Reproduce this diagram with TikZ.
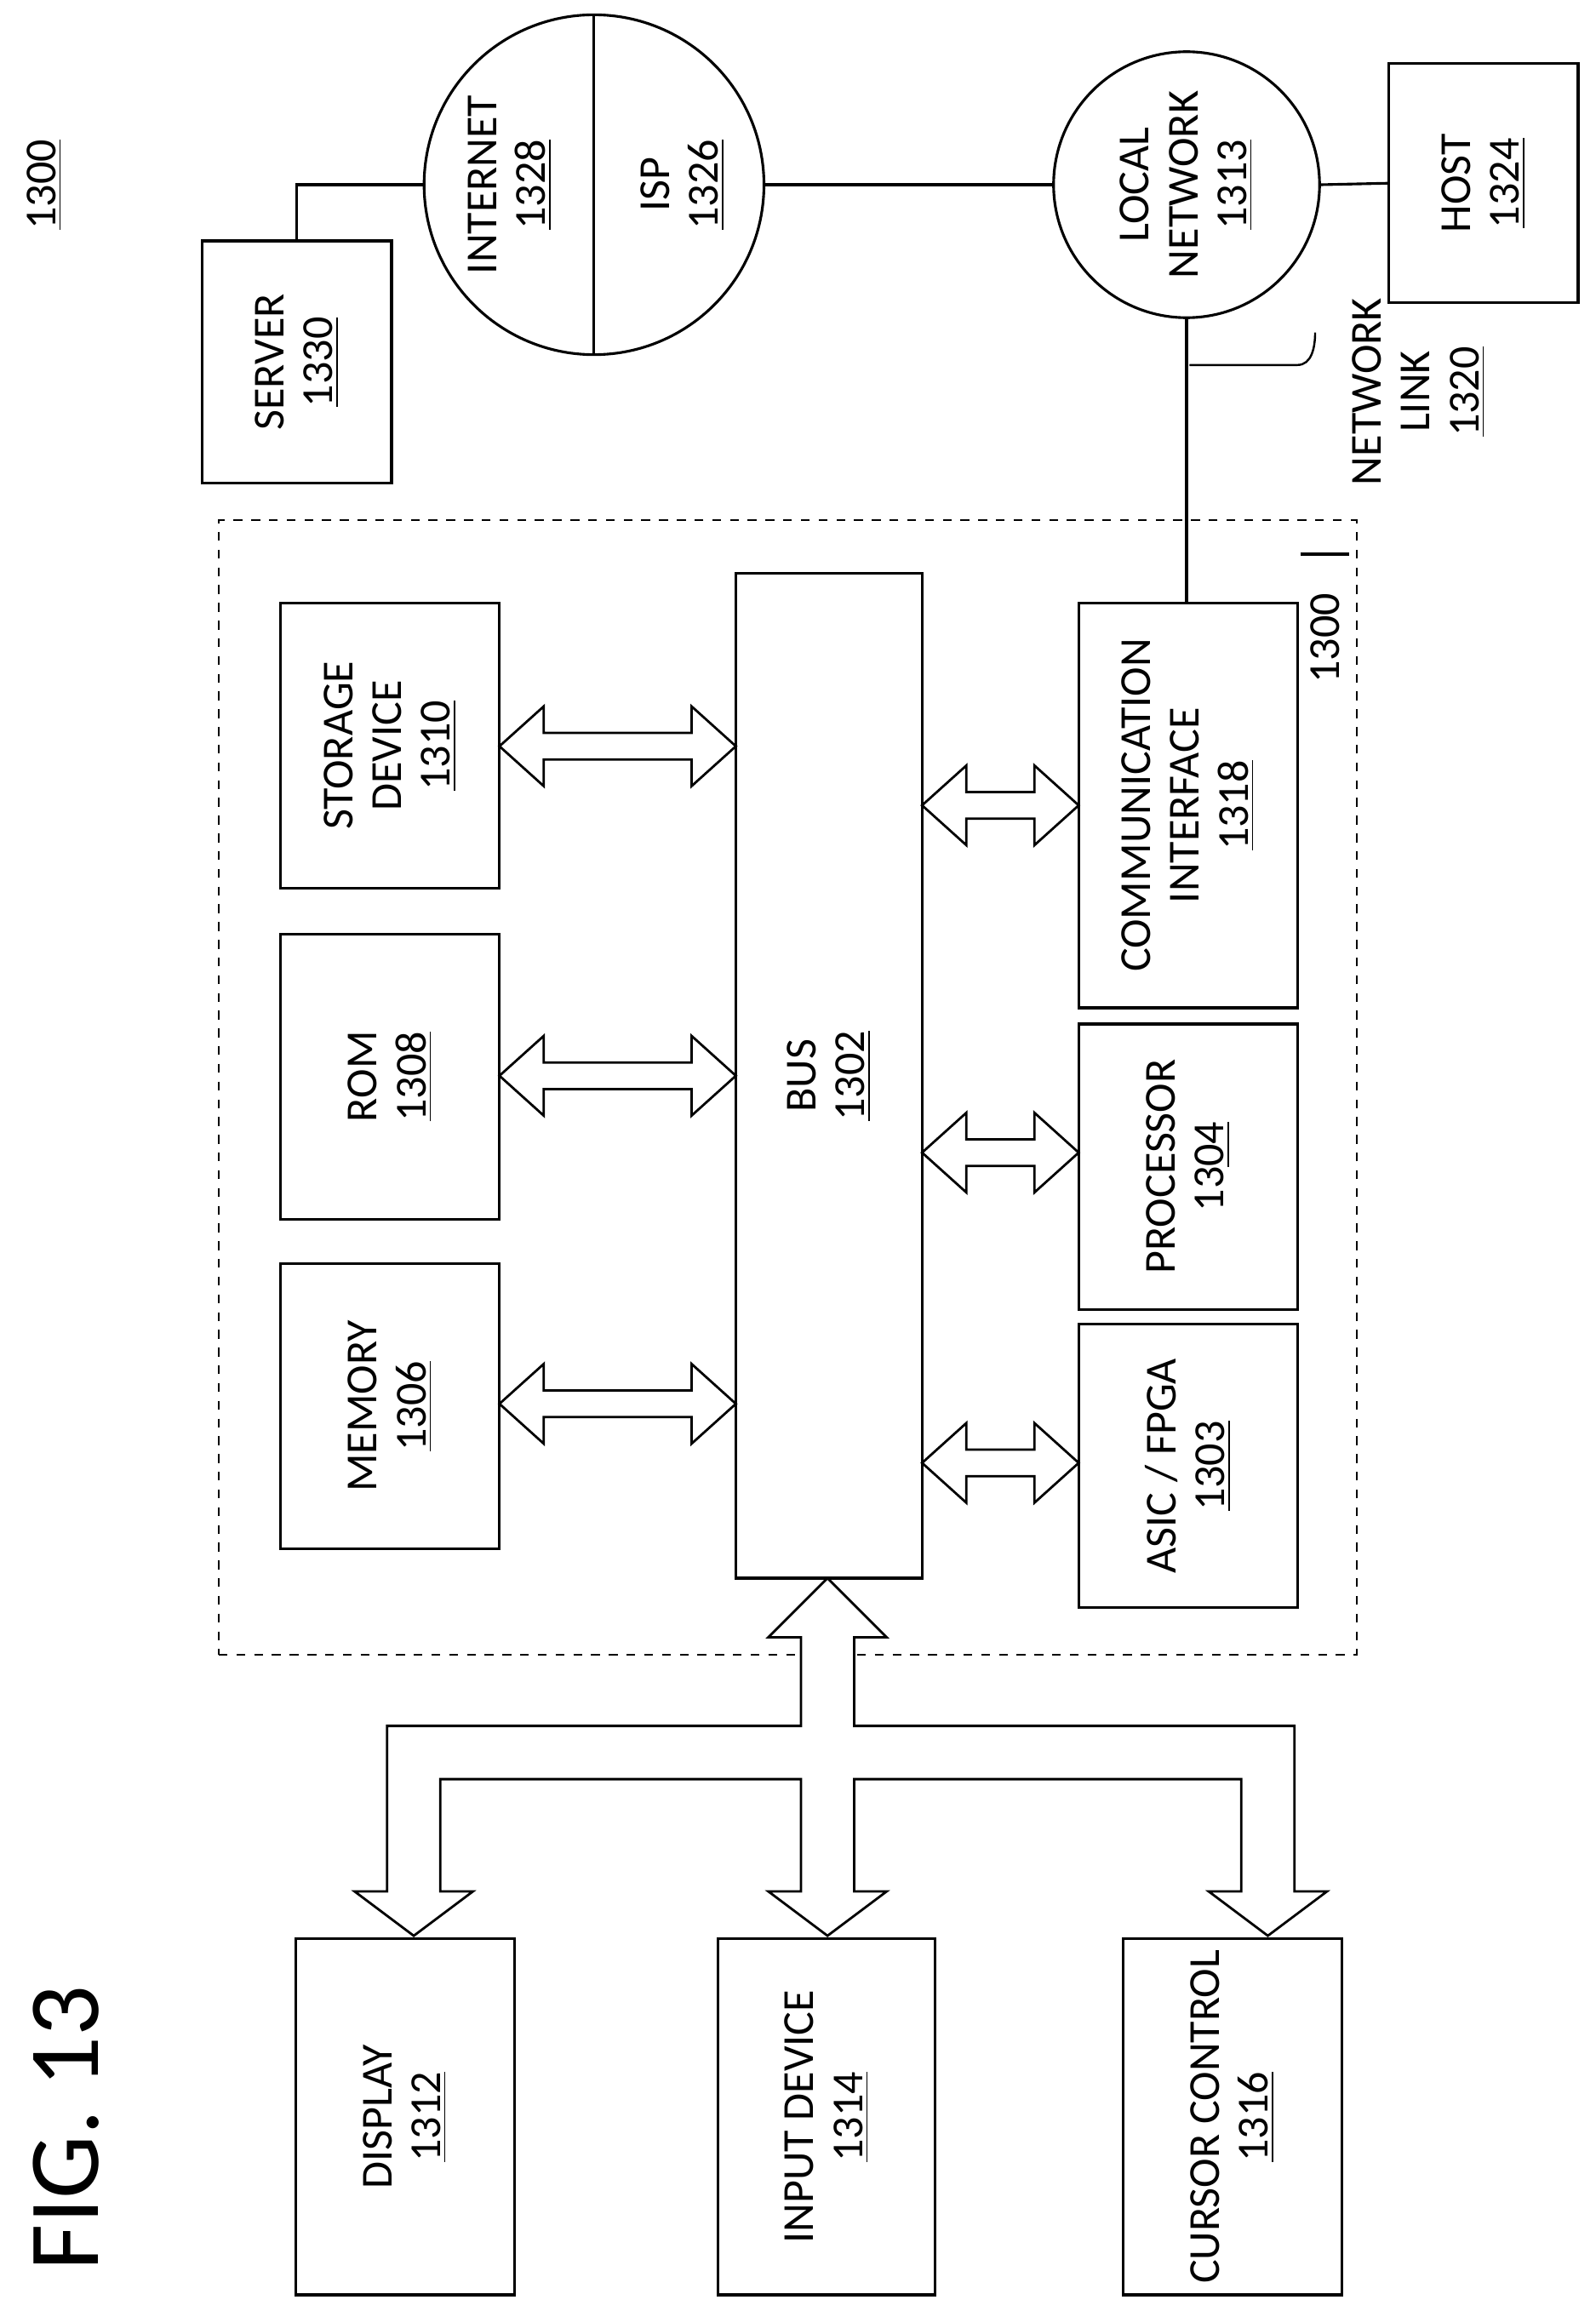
\documentclass[tikz,border=0pt]{standalone}
\usepackage{fontspec}
\setmainfont{Carlito}
\begin{document}
\begin{tikzpicture}[x=0.5pt,y=-0.5pt,
  lbl/.style={rotate=90,align=center,font=\fontsize{15}{16.5}\selectfont},
  ln/.style={line width=0.9pt},
  hol/.style={draw,line width=0.8pt,fill=white}]
\useasboundingbox (0,0) rectangle (1080,1568);
\newcommand{\bx}[6]{%
  \node[draw,ln,inner sep=0,minimum width={(#4-#2)*0.5pt},minimum height={(#5-#3)*0.5pt}] (#1) at ({(#2+#4)/2},{(#3+#5)/2}) {};
  \node[lbl] at (#1) {#6};}
\newcommand{\dbl}[3]{%
  \draw[hol] (#1,#3) -- (#1+30,#3-27) -- (#1+30,#3-9) -- (#2-30,#3-9) -- (#2-30,#3-27) -- (#2,#3) -- (#2-30,#3+27) -- (#2-30,#3+9) -- (#1+30,#3+9) -- (#1+30,#3+27) -- cycle;}
% titles
\node[lbl] (t1300) at (30,125) {\underline{1300}};
\node[rotate=90,font=\fontsize{34}{36}\selectfont] (fig) at (45,1440) {FIG. 13};
% network
\bx{srv}{137}{163}{265}{327}{SERVER\\\underline{1330}}
\node[draw,ln,circle,minimum size=115pt,inner sep=0] (inet) at (402,125) {};
\draw[ln] (inet.north) -- (inet.south);
\node[lbl] at (345,125) {INTERNET\\\underline{1328}};
\node[lbl] at (462,125) {ISP\\\underline{1326}};
\node[draw,ln,circle,minimum size=90pt,inner sep=0] (lan) at (803,125) {};
\node[lbl] at (803,125) {LOCAL\\NETWORK\\\underline{1313}};
\bx{host}{940}{43}{1068}{205}{HOST\\\underline{1324}}
\draw[ln] (srv.north) |- (inet.west);
\draw[ln] (inet.east) -- (lan.west);
\draw[ln] (lan.east) -- (host.west);
% system box
\node[draw,dashed,line width=0.6pt,inner sep=0,minimum width=385pt,minimum height=384pt] (sys) at (533,736) {};
\node[lbl] (s1300) at (897,432) {1300};
\coordinate (l1) at (880,375); \coordinate (l2) at (913,375);
\draw[ln] (l1) -- (l2);
\bx{stor}{190}{408}{338}{601}{STORAGE\\DEVICE\\\underline{1310}}
\bx{rom}{190}{632}{338}{825}{ROM\\\underline{1308}}
\bx{mem}{190}{855}{338}{1048}{MEMORY\\\underline{1306}}
\bx{bus}{498}{388}{624}{1068}{BUS\\\underline{1302}}
\bx{comm}{730}{408}{878}{682}{COMMUNICATION\\INTERFACE\\\underline{1318}}
\bx{proc}{730}{693}{878}{886}{PROCESSOR\\13\underline{04}}
\bx{asic}{730}{896}{878}{1088}{ASIC / FPGA\\\underline{1303}}
\draw[ln] (lan.south) -- (lan.south |- comm.north);
\coordinate (b1) at (805,247); \coordinate (b2) at (890,225);
\draw[line width=0.7pt] (b1) -- (878,247) to[out=0,in=-90] (b2);
\node[lbl] (nl) at (960,265) {NETWORK\\LINK\\\underline{1320}};
\dbl{338}{498}{505}
\dbl{338}{498}{728}
\dbl{338}{498}{950}
\dbl{624}{730}{545}
\dbl{624}{730}{780}
\dbl{624}{730}{990}
% peripherals
\bx{disp}{200}{1312}{348}{1553}{DISPLAY\\\underline{1312}}
\bx{inp}{486}{1312}{633}{1553}{INPUT DEVICE\\\underline{1314}}
\bx{cur}{760}{1312}{908}{1553}{CURSOR CONTROL\\\underline{1316}}
\draw[hol] (560,1068) -- (600,1108) -- (578,1108) -- (578,1168) -- (876,1168) -- (876,1280) -- (898,1280) -- (858,1310) -- (818,1280) -- (840,1280) -- (840,1204) -- (578,1204) -- (578,1280) -- (600,1280) -- (560,1310) -- (520,1280) -- (542,1280) -- (542,1204) -- (298,1204) -- (298,1280) -- (320,1280) -- (280,1310) -- (240,1280) -- (262,1280) -- (262,1168) -- (542,1168) -- (542,1108) -- (520,1108) -- cycle;
\end{tikzpicture}
\end{document}
